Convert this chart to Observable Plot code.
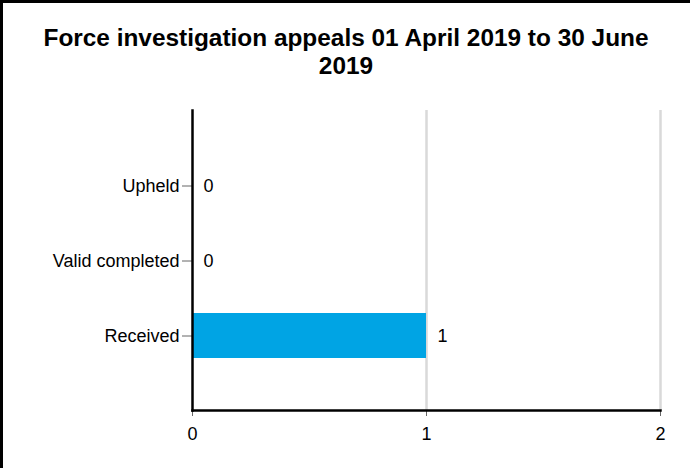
<!DOCTYPE html>
<html>
<head>
<meta charset="utf-8">
<script src="https://cdn.jsdelivr.net/npm/d3@7"></script>
<script src="https://cdn.jsdelivr.net/npm/@observablehq/plot@0.6"></script>
<style>
  html, body { margin: 0; padding: 0; background: #fff; }
  #wrap {
    position: relative; width: 690px; height: 468px; box-sizing: border-box;
    border-left: 3px solid #000; border-top: 3px solid #000; overflow: hidden;
    font-family: Arial, "Liberation Sans", sans-serif;
  }
  #title {
    position: absolute; left: -2px; top: 21px; width: 690px; text-align: center;
    font-weight: bold; font-size: 24.4px; line-height: 28px; color: #000;
  }
  #chart { position: absolute; left: -3px; top: 89px; }
</style>
</head>
<body>
<div id="wrap">
  <div id="title">Force investigation appeals 01 April 2019 to 30 June<br>2019</div>
  <div id="chart"></div>
</div>
<script>
const categories = ["Upheld", "Valid completed", "Received"];
const values = [0, 0, 1];
const xTicks = [0, 1, 2];

const data = categories.map((c, i) => ({category: c, value: values[i]}));

const chart = Plot.plot({
  width: 690,
  height: 376,
  marginTop: 18,
  marginBottom: 58,
  marginLeft: 192,
  marginRight: 30,
  style: {fontFamily: 'Arial, "Liberation Sans", sans-serif', fontSize: "18px", color: "#000", background: "#fff"},
  x: {domain: [0, 2], ticks: xTicks, label: null},
  y: {domain: categories, paddingInner: 0.4, paddingOuter: 0.7, label: null},
  marks: [
    Plot.ruleX(xTicks.slice(1), {stroke: "#d9d9d9", strokeWidth: 2.5}),
    Plot.barX(data, {x: "value", y: "category", fill: "#00A4E4"}),
    Plot.text(data, {x: "value", y: "category", text: d => String(d.value), textAnchor: "start", dx: 11, fontSize: 18, fill: "#000"}),
    Plot.axisY({tickSize: 10, tickPadding: 3, stroke: "#666", fill: "#000", fontSize: 18}),
    Plot.axisX({ticks: xTicks, tickSize: 6, tickPadding: 11, stroke: "#666", fill: "#000", fontSize: 18, tickFormat: d3.format("d")}),
    Plot.frame({anchor: "left", stroke: "#000", strokeWidth: 2.5}),
    Plot.frame({anchor: "bottom", stroke: "#000", strokeWidth: 2.5})
  ]
});
document.getElementById("chart").appendChild(chart);
</script>
</body>
</html>
